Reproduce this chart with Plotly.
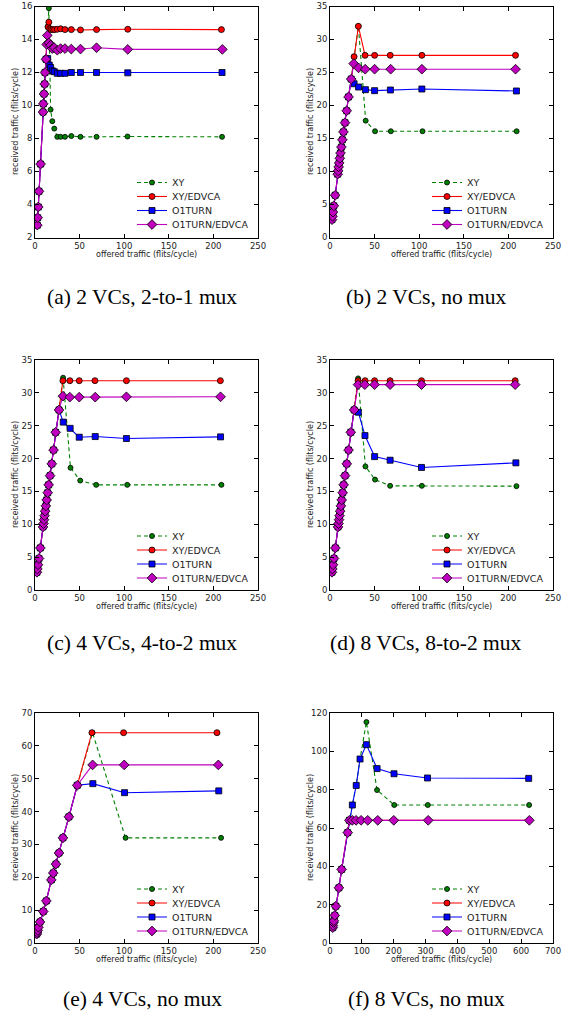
import plotly.graph_objects as go

W, H = 563, 1013

SERIES = ["XY", "XY/EDVCA", "O1TURN", "O1TURN/EDVCA"]
CAPTIONS = ["(a) 2 VCs, 2-to-1 mux", "(b) 2 VCs, no mux",
            "(c) 4 VCs, 4-to-2 mux", "(d) 8 VCs, 8-to-2 mux",
            "(e) 4 VCs, no mux", "(f) 8 VCs, no mux"]
X_TITLE = "offered traffic (flits/cycle)"
Y_TITLE = "received traffic (flits/cycle)"

# ---------------- panel (a): 2 VCs, 2-to-1 mux ----------------
a_lin_x = [2.6, 3.0, 3.7, 4.5, 6.3, 9.0, 9.3, 10.1, 10.8, 11.2, 12.3]
a_lin_y = [2.75, 3.2, 3.85, 4.8, 6.45, 9.6, 10.1, 10.7, 11.3, 12.0, 12.8]
a_xy_x = a_lin_x + [13.1, 14.3, 15.5, 17.5, 19.4, 21.6, 25.0, 28.7, 33.6, 40.7, 51.0, 69.0, 103.7, 209.7]
a_xy_y = a_lin_y + [13.7, 14.8, 15.9, 9.75, 9.05, 8.6, 8.1, 8.1, 8.1, 8.15, 8.1, 8.1, 8.12, 8.1]
a_xye_x = a_lin_x + [13.1, 14.7, 15.5, 16.5, 18.0, 20.0, 22.0, 25.0, 28.7, 33.6, 40.7, 51.0, 69.0, 104.0, 209.0]
a_xye_y = a_lin_y + [13.7, 14.75, 15.05, 14.65, 14.6, 14.6, 14.6, 14.62, 14.65, 14.6, 14.6, 14.58, 14.6, 14.62, 14.6]
a_o1_x = a_lin_x + [14.2, 16.0, 17.5, 19.4, 21.6, 25.0, 28.7, 33.6, 40.7, 51.0, 69.0, 104.0, 209.7]
a_o1_y = a_lin_y + [12.85, 12.45, 12.3, 12.1, 12.05, 11.95, 11.95, 11.95, 12.0, 12.0, 12.0, 11.98, 12.0]
a_o1e_x = a_lin_x + [13.1, 13.8, 15.7, 17.5, 19.4, 21.6, 25.0, 28.7, 33.6, 40.7, 51.0, 69.0, 104.0, 210.0]
a_o1e_y = a_lin_y + [13.7, 14.25, 13.8, 13.65, 13.45, 13.5, 13.35, 13.45, 13.45, 13.42, 13.42, 13.5, 13.4, 13.4]

# ---------------- panel (b): 2 VCs, no mux ----------------
b_lin_x = [2.2, 2.8, 3.4, 4.3, 5.8, 8.6, 9.1, 9.7, 10.3, 11.0, 11.8, 12.8, 13.9, 15.1, 16.8, 18.7, 20.8, 23.8]
b_lin_y = [2.7, 3.2, 3.85, 4.8, 6.4, 9.6, 10.1, 10.7, 11.3, 12.0, 12.8, 13.7, 14.8, 16.0, 17.4, 19.2, 21.3, 24.0]
b_xy_x = b_lin_x + [27.0, 31.8, 40.0, 50.5, 68.2, 103.7, 209.2]
b_xy_y = b_lin_y + [27.4, 32.0, 17.7, 16.1, 16.1, 16.1, 16.1]
b_xye_x = b_lin_x + [27.0, 31.8, 39.3, 50.0, 67.5, 103.0, 208.0]
b_xye_y = b_lin_y + [27.4, 32.0, 27.6, 27.6, 27.6, 27.6, 27.6]
b_o1_x = b_lin_x + [27.0, 32.0, 39.7, 50.0, 67.7, 103.0, 209.0]
b_o1_y = b_lin_y + [23.3, 22.8, 22.4, 22.25, 22.35, 22.5, 22.2]
b_o1e_x = b_lin_x + [26.6, 32.0, 39.5, 50.0, 68.0, 103.0, 208.0]
b_o1e_y = b_lin_y + [26.35, 25.7, 25.5, 25.5, 25.5, 25.5, 25.5]

# ---------------- panel (c): 4 VCs, 4-to-2 mux ----------------
c_lin_x = [2.2, 2.6, 3.4, 4.5, 6.0, 9.0, 9.5, 10.1, 10.7, 11.4, 12.2, 13.1, 14.2, 15.3, 16.9, 18.8, 20.8, 23.1, 26.9]
c_lin_y = [2.7, 3.2, 3.85, 4.8, 6.4, 9.6, 10.1, 10.7, 11.3, 12.0, 12.8, 13.7, 14.8, 16.0, 17.4, 19.2, 21.3, 24.0, 27.4]
c_xy_x = c_lin_x + [31.5, 39.8, 50.7, 68.6, 103.4, 209.0]
c_xy_y = c_lin_y + [32.3, 18.6, 16.65, 16.0, 16.0, 16.0]
c_xye_x = c_lin_x + [31.3, 39.1, 49.6, 67.2, 102.5, 207.8]
c_xye_y = c_lin_y + [31.85, 31.85, 31.85, 31.85, 31.85, 31.85]
c_o1_x = c_lin_x + [31.7, 39.4, 49.6, 67.5, 102.5, 208.0]
c_o1_y = c_lin_y + [25.55, 24.6, 23.25, 23.35, 23.05, 23.3]
c_o1e_x = c_lin_x + [31.3, 39.0, 49.6, 67.5, 102.5, 208.0]
c_o1e_y = c_lin_y + [29.5, 29.35, 29.35, 29.35, 29.4, 29.4]

# ---------------- panel (d): 8 VCs, 8-to-2 mux ----------------
d_lin_x = [2.2, 2.6, 3.4, 4.5, 6.0, 9.0, 9.5, 10.1, 10.7, 11.4, 12.2, 13.1, 14.2, 15.3, 16.9, 18.8, 20.8, 23.3, 27.1]
d_lin_y = [2.7, 3.2, 3.85, 4.8, 6.4, 9.6, 10.1, 10.7, 11.3, 12.0, 12.8, 13.7, 14.8, 16.0, 17.4, 19.2, 21.3, 24.0, 27.4]
d_xy_x = d_lin_x + [31.5, 39.7, 50.5, 67.4, 103.0, 209.0]
d_xy_y = d_lin_y + [32.2, 18.8, 16.8, 15.85, 15.85, 15.8]
d_xye_x = d_lin_x + [31.5, 39.3, 50.0, 67.4, 102.6, 207.6]
d_xye_y = d_lin_y + [31.85, 31.85, 31.85, 31.85, 31.85, 31.85]
d_o1_x = d_lin_x + [31.8, 39.2, 50.0, 67.4, 102.6, 208.4]
d_o1_y = d_lin_y + [27.05, 23.5, 20.3, 19.75, 18.65, 19.35]
d_o1e_x = d_lin_x + [31.5, 39.0, 50.0, 67.4, 102.6, 207.6]
d_o1e_y = d_lin_y + [31.25, 31.25, 31.25, 31.25, 31.25, 31.25]

# ---------------- panel (e): 4 VCs, no mux ----------------
e_lin_x = [1.9, 2.4, 3.0, 3.9, 5.6, 9.3, 12.7, 18.3, 20.5, 23.5, 26.9, 31.3, 38.0, 47.4]
e_lin_y = [2.7, 3.2, 3.85, 4.8, 6.4, 9.6, 12.8, 19.2, 21.3, 24.0, 27.4, 32.0, 38.4, 48.0]
e_xy_x = e_lin_x + [64.5, 101.5, 208.6]
e_xy_y = e_lin_y + [64.0, 32.0, 32.0]
e_xye_x = e_lin_x + [63.8, 99.3, 204.0]
e_xye_y = e_lin_y + [64.0, 64.0, 64.0]
e_o1_x = e_lin_x + [64.9, 100.4, 206.0]
e_o1_y = e_lin_y + [48.5, 45.75, 46.3]
e_o1e_x = e_lin_x + [64.6, 100.0, 205.5]
e_o1e_y = e_lin_y + [54.2, 54.2, 54.2]

# ---------------- panel (f): 8 VCs, no mux ----------------
f_lin_x = [8.6, 9.5, 10.8, 12.0, 15.0, 18.3, 28.0, 36.5, 55.6, 60.8]
f_lin_y = [8.0, 9.1, 10.7, 11.6, 14.4, 19.2, 28.8, 38.4, 57.6, 64.0]
f_xy_x = f_lin_x + [70.2, 82.3, 94.3, 114.3, 147.7, 201.6, 307.0, 625.0]
f_xy_y = f_lin_y + [72.0, 82.2, 96.0, 115.3, 79.8, 72.0, 72.0, 72.0]
f_xye_x = f_lin_x + [70.2, 81.8, 97.5, 118.4, 149.9, 200.2, 308.2, 625.8]
f_xye_y = f_lin_y + [64.0, 64.0, 64.0, 64.0, 64.0, 64.0, 64.0, 64.0]
f_o1_x = f_lin_x + [70.2, 82.3, 94.3, 114.3, 147.8, 201.0, 306.0, 623.7]
f_o1_y = f_lin_y + [72.0, 82.2, 96.0, 103.5, 91.0, 88.3, 86.1, 85.9]
f_o1e_x = f_lin_x + [70.2, 81.8, 97.5, 118.4, 149.9, 200.2, 308.2, 625.8]
f_o1e_y = f_lin_y + [64.0, 64.0, 64.0, 64.0, 64.0, 64.0, 64.0, 64.0]

PANELS = [
    [(a_xy_x, a_xy_y), (a_xye_x, a_xye_y), (a_o1_x, a_o1_y), (a_o1e_x, a_o1e_y)],
    [(b_xy_x, b_xy_y), (b_xye_x, b_xye_y), (b_o1_x, b_o1_y), (b_o1e_x, b_o1e_y)],
    [(c_xy_x, c_xy_y), (c_xye_x, c_xye_y), (c_o1_x, c_o1_y), (c_o1e_x, c_o1e_y)],
    [(d_xy_x, d_xy_y), (d_xye_x, d_xye_y), (d_o1_x, d_o1_y), (d_o1e_x, d_o1e_y)],
    [(e_xy_x, e_xy_y), (e_xye_x, e_xye_y), (e_o1_x, e_o1_y), (e_o1e_x, e_o1e_y)],
    [(f_xy_x, f_xy_y), (f_xye_x, f_xye_y), (f_o1_x, f_o1_y), (f_o1e_x, f_o1e_y)],
]

X_RANGES = [[0, 250]] * 5 + [[0, 700]]
X_DTICK = [50, 50, 50, 50, 50, 100]
Y_RANGES = [[2, 16], [0, 35], [0, 35], [0, 35], [0, 70], [0, 120]]
Y_DTICK = [2, 5, 5, 5, 10, 20]

# ---------------- styling ----------------
STYLE = [
    dict(color="#008000", dash="4px,3px", symbol="circle", size=5),
    dict(color="#ff0000", dash="solid", symbol="circle", size=6),
    dict(color="#0000ff", dash="solid", symbol="square", size=6),
    dict(color="#bf00bf", dash="solid", symbol="diamond", size=7.5),
]

# window pixel positions (as measured on the reference)
COL_PX = [(35, 258), (330, 553)]
ROW_PX = [(6.5, 237.5), (360, 590), (713, 943)]
CAP_Y = [297, 643, 999]
CAP_X = [142, 426]

FONT = "DejaVu Sans"
TXT = "#222"


def px_x(v):
    return v / W


def px_y(v):
    return 1 - v / H


fig = go.Figure()
layout = dict(width=W, height=H, margin=dict(l=0, r=0, t=0, b=0),
              paper_bgcolor="white", plot_bgcolor="white", showlegend=True)
annotations = []

legend_idx = 0
for p, series in enumerate(PANELS):
    r, c = divmod(p, 2)
    x0, x1 = COL_PX[c]
    y0, y1 = ROW_PX[r]
    ax = "" if p == 0 else str(p + 1)
    common = dict(ticks="inside", ticklen=4, tickwidth=0.8, tickcolor="black",
                  showline=True, linecolor="black", linewidth=1, mirror="allticks",
                  showgrid=False, zeroline=False, tick0=0,
                  tickfont=dict(family=FONT, size=8.5, color=TXT),
                  ticklabeloverflow="allow", automargin=False, fixedrange=True)
    layout["xaxis" + ax] = dict(domain=[px_x(x0), px_x(x1)], anchor="y" + ax,
                                range=X_RANGES[p], dtick=X_DTICK[p], **common)
    layout["yaxis" + ax] = dict(domain=[px_y(y1), px_y(y0)], anchor="x" + ax,
                                range=Y_RANGES[p], dtick=Y_DTICK[p], **common)
    # axis titles
    annotations.append(dict(
        text=X_TITLE, x=px_x((x0 + x1) / 2), y=px_y(y1 + 16.5), xref="paper", yref="paper",
        xanchor="center", yanchor="middle", showarrow=False,
        font=dict(family=FONT, size=8, color=TXT)))
    annotations.append(dict(
        text=Y_TITLE, x=px_x(x0 - 20), y=px_y((y0 + y1) / 2), xref="paper", yref="paper",
        xanchor="center", yanchor="middle", showarrow=False, textangle=-90,
        font=dict(family=FONT, size=8, color=TXT)))
    for s, (xs, ys) in enumerate(series):
        st = STYLE[s]
        legend_idx += 1
        lg = "legend" if legend_idx == 1 else "legend%d" % legend_idx
        fig.add_trace(go.Scatter(
            x=xs, y=ys, name=SERIES[s], mode="lines+markers",
            xaxis="x" + ax, yaxis="y" + ax, legend=lg,
            line=dict(color=st["color"], width=1.1, dash=st["dash"]),
            marker=dict(symbol=st["symbol"], size=st["size"], color=st["color"],
                        line=dict(color="black", width=0.8))))
        ly = y0 + 176 + 14 * s
        layout[lg] = dict(
            x=px_x(x0 + 138 - 41), xanchor="left", y=px_y(ly), yanchor="middle",
            bgcolor="rgba(0,0,0,0)", borderwidth=0,
            font=dict(family=FONT, size=9.5, color=TXT),
            itemwidth=30, tracegroupgap=0)
    annotations.append(dict(
        text=CAPTIONS[p], x=px_x(CAP_X[c]), y=px_y(CAP_Y[r]), xref="paper", yref="paper",
        xanchor="center", yanchor="middle", showarrow=False,
        font=dict(family="Liberation Serif", size=21.5, color="black")))

layout["annotations"] = annotations
fig.update_layout(**layout)
# the default page body has an 8 px margin; drop it so the figure fills the window
fig.write_html("out.html", config={"displayModeBar": False},
               post_script="document.body.style.margin='0px';")
